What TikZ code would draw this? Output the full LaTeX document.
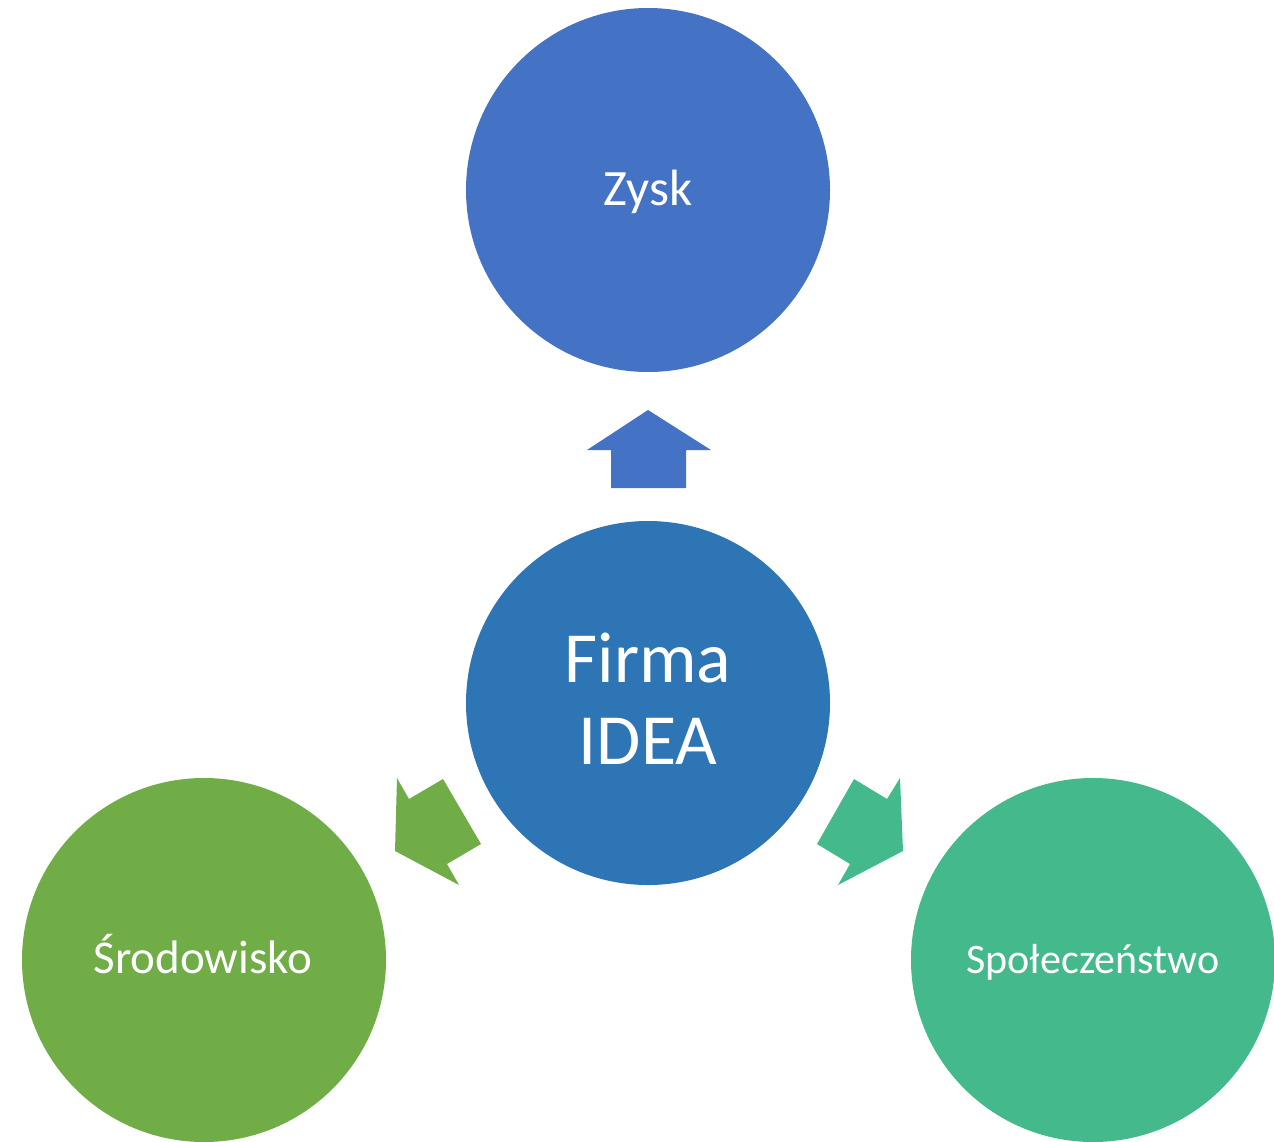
\documentclass[tikz,border=0pt]{standalone}
\usepackage{fontspec}
\setmainfont{Carlito}
\definecolor{cZysk}{HTML}{4472C4}
\definecolor{cFirma}{HTML}{2E75B6}
\definecolor{cSrod}{HTML}{70AD47}
\definecolor{cSpol}{HTML}{44BA8C}
\tikzset{
  bubble/.style={circle, minimum size=364pt, inner sep=0pt, draw=none},
  bubbletext/.style={text=white, align=center, inner sep=0pt},
  blockarrow/.style={draw=none}
}
\begin{document}
\begin{tikzpicture}[x=1pt,y=-1pt]
\useasboundingbox (0,0) rectangle (1274,1141);
\node[bubble, fill=cZysk] (zysk) at (648,190) {};
\node[bubble, fill=cFirma] (firma) at (648,703) {};
\node[bubble, fill=cSrod] (srod) at (204,960) {};
\node[bubble, fill=cSpol] (spol) at (1093,960) {};
\node[bubbletext, anchor=base, font=\fontsize{51}{60}\selectfont] (zyskt) at (648,205) {Zysk};
\node[bubbletext, font=\fontsize{72}{82}\selectfont] (firmat) at (648,699) {Firma\\IDEA};
\node[bubbletext, anchor=base, font=\fontsize{47}{54}\selectfont] (srodt) at (203,973) {Środowisko};
\node[bubbletext, anchor=base, font=\fontsize{42}{48}\selectfont] (spolt) at (1093,973) {Społeczeństwo};
\fill[cZysk, blockarrow] (648,410) -- (711,450) -- (686,450) -- (686,488) -- (611,488) -- (611,450) -- (587,450) -- cycle;
\fill[cSrod, blockarrow] (397,778) -- (409,799) -- (443,779) -- (481,844) -- (447,864) -- (459,885) -- (395,851) -- cycle;
\fill[cSpol, blockarrow] (900,778) -- (887,799) -- (854,779) -- (817,844) -- (850,864) -- (838,885) -- (903,851) -- cycle;
\end{tikzpicture}
\end{document}
